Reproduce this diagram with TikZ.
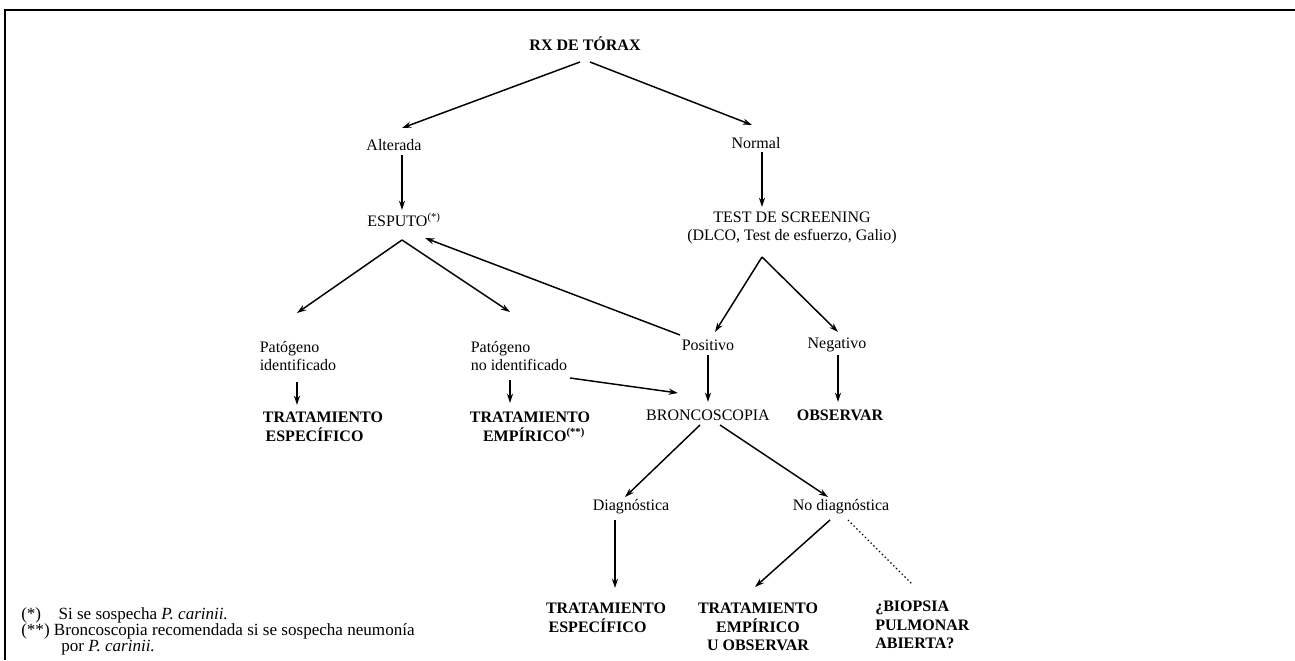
\documentclass[tikz,border=0pt]{standalone}
\usepackage{fontspec}
\setmainfont{Liberation Serif}
\usetikzlibrary{calc,arrows.meta}
\begin{document}
\begin{tikzpicture}[x=0.75pt,y=-0.75pt,
  lbl/.style={inner sep=0pt, font=\fontsize{12}{14}\selectfont, align=center},
  outc/.style={lbl, font=\fontsize{12}{14}\selectfont\bfseries},
  arr/.style={-{Stealth[length=7pt,width=4.5pt]}, line width=1.1pt},
  dots/.style={dotted, line width=1pt}]
\useasboundingbox (0,0) rectangle (1295,660);
\draw[line width=1.6pt] (5,660) -- (5,10) -- (1295,10);

\node[outc] (rx) at (585,44) {RX DE TÓRAX};
\node[lbl] (alt) at (394,145) {Alterada};
\node[lbl] (nor) at (756,143) {Normal};
\node[lbl] (esp) at (404,220) {ESPUTO\textsuperscript{(*)}};
\node[lbl] (test) at (792,228) {TEST DE SCREENING\\(DLCO, Test de esfuerzo, Galio)};
\node[lbl, align=left] (patid) at (298,356) {Patógeno\\identificado};
\node[lbl, align=left] (patno) at (519,356) {Patógeno\\no identificado};
\node[lbl] (pos) at (708,345) {Positivo};
\node[lbl] (neg) at (837,345) {Negativo};
\node[outc, align=left] (trat1) at (323,427) {TRATAMIENTO\\\hspace{2pt}ESPECÍFICO};
\node[outc] (trat2) at (530,427) {TRATAMIENTO\\\hspace{6pt}EMPÍRICO\textsuperscript{(**)}};
\node[lbl] (bron) at (708,415) {BRONCOSCOPIA};
\node[outc] (obs) at (840,415) {OBSERVAR};
\node[lbl] (diag) at (631,507) {Diagnóstica};
\node[lbl] (nodiag) at (841,507) {No diagnóstica};
\node[outc, align=left] (trat3) at (606,618) {TRATAMIENTO\\\hspace{2pt}ESPECÍFICO};
\node[outc] (trat4) at (758,627) {TRATAMIENTO\\EMPÍRICO\\U OBSERVAR};
\node[outc, anchor=west, align=left] (biop) at (875,625) {¿BIOPSIA\\PULMONAR\\ABIERTA?};

\node[lbl, anchor=north west, align=left, font=\fontsize{12.8}{11.3}\selectfont] (fn) at (21,607)
  {\makebox[28pt][l]{(*)}Si se sospecha \textit{P. carinii.}\\
   (**) Broncoscopia recomendada si se sospecha neumonía\\
   \hspace{30pt}por \textit{P. carinii.}};

\draw[arr] ($(rx)+(-5,18)$) -- ($(alt)+(8,-17)$);
\draw[arr] ($(rx)+(5,18)$) -- ($(nor)+(-4,-18)$);
\draw[arr] ($(alt)+(8,10)$) -- ($(esp)+(-2,-10)$);
\draw[arr] ($(nor)+(6,9)$) -- ($(test)+(-30,-21)$);
\draw[arr] ($(esp)+(-2,20)$) -- ($(patid)+(-1,-43)$);
\draw[arr] ($(esp)+(-2,20)$) -- ($(patno)+(-9,-44)$);
\draw[arr] ($(pos)+(-28,-10)$) -- ($(esp)+(21,18)$);
\draw[arr] ($(test)+(-30,29)$) -- ($(pos)+(7,-13)$);
\draw[arr] ($(test)+(-30,29)$) -- ($(neg)+(1,-13)$);
\draw[arr] ($(patid)+(-1,26)$) -- ($(trat1)+(-26,-22)$);
\draw[arr] ($(patno)+(-9,24)$) -- ($(trat2)+(-20,-24)$);
\draw[arr] ($(patno)+(51,22)$) -- ($(bron)+(-30,-22)$);
\draw[arr] ($(pos)+(0,10)$) -- ($(bron)+(0,-13)$);
\draw[arr] ($(neg)+(1,10)$) -- ($(obs)+(-2,-13)$);
\draw[arr] ($(bron)+(-8,10)$) -- ($(diag)+(-6,-10)$);
\draw[arr] ($(bron)+(12,10)$) -- ($(nodiag)+(-13,-10)$);
\draw[arr] ($(diag)+(-16,13)$) -- ($(trat3)+(9,-30)$);
\draw[arr] ($(nodiag)+(-11,13)$) -- ($(trat4)+(-3,-40)$);
\draw[dots] ($(nodiag)+(7,13)$) -- ($(biop.west)+(38,-40)$);
\end{tikzpicture}
\end{document}
